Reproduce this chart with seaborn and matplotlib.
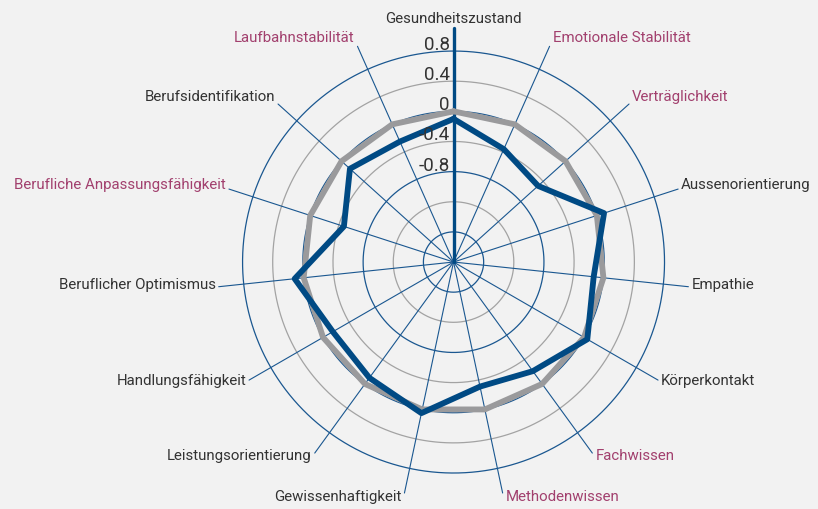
import numpy as np
import matplotlib
matplotlib.use('Agg')
import matplotlib.pyplot as plt
import seaborn as sns

# Kategorien im Uhrzeigersinn, beginnend oben
categories = ['Gesundheitszustand', 'Emotionale Stabilität', 'Verträglichkeit',
              'Aussenorientierung', 'Empathie', 'Körperkontakt', 'Fachwissen',
              'Methodenwissen', 'Gewissenhaftigkeit', 'Leistungsorientierung',
              'Handlungsfähigkeit', 'Beruflicher Optimismus',
              'Berufliche Anpassungsfähigkeit', 'Berufsidentifikation',
              'Laufbahnstabilität']

# Werte (blau = Profil, grau = Norm)
profil = [-0.10, -0.36, -0.49, 0.10, -0.13, 0.05, -0.21, -0.31, 0.05,
          -0.10, -0.15, 0.12, -0.47, -0.15, -0.25]
norm = [0.0, 0.0, 0.0, 0.0, 0.0, 0.0, 0.0, 0.0, 0.0,
        0.0, 0.0, 0.0, 0.0, 0.0, 0.0]

highlighted = ['Laufbahnstabilität', 'Emotionale Stabilität', 'Verträglichkeit',
               'Berufliche Anpassungsfähigkeit', 'Fachwissen', 'Methodenwissen']

tick_values = [0.8, 0.4, 0, -0.4, -0.8]
tick_labels = ['0.8', '0.4', '0', '-0.4', '-0.8']

BG = '#f2f2f2'
BLUE = '#004a84'
GRID_BLUE = '#1a5790'
GRAY = '#9a9a9c'
PINK = '#a2406e'
DARK = '#333333'

sns.set_theme(style='white')
plt.rcParams['font.family'] = ['Roboto', 'DejaVu Sans']

fig = plt.figure(figsize=(8.18, 5.09), dpi=100, facecolor=BG)
ax = fig.add_axes([0.2965, 0.0707, 0.5159, 0.829], projection='polar')
ax.set_theta_zero_location('N')
ax.set_theta_direction(-1)
ax.set_ylim(-2, 0.8)
ax.grid(False)
ax.set_xticks([])
ax.set_yticks([])
ax.spines['polar'].set_visible(False)
ax.patch.set_alpha(0)

n = len(categories)
angles = np.linspace(0, 2 * np.pi, n, endpoint=False)

# Kreise
th = np.linspace(0, 2 * np.pi, 400)
for lvl in [-1.6, -1.2, -0.8, -0.4, 0, 0.4, 0.8]:
    is_blue = round((lvl + 1.6) / 0.4) % 2 == 0
    ax.plot(th, np.full_like(th, lvl), color=GRID_BLUE if is_blue else '#a3a3a3',
            lw=0.9, zorder=1, clip_on=False)

# Speichen
r_end = 1.134
for i, a in enumerate(angles):
    if i == 0:
        ax.plot([a, a], [-2, 1.107], color=BLUE, lw=2.4, clip_on=False, zorder=2)
    else:
        ax.plot([a, a], [-2, r_end], color=GRID_BLUE, lw=0.8, clip_on=False, zorder=1)

# Linien
theta_c = np.append(angles, angles[0] + 2 * np.pi)
sns.lineplot(x=theta_c, y=norm + norm[:1], ax=ax, color=GRAY, lw=4.2,
             sort=False, zorder=3)
sns.lineplot(x=theta_c, y=profil + profil[:1], ax=ax, color=BLUE, lw=4.2,
             sort=False, zorder=4)
ax.set_xlabel('')
ax.set_ylabel('')

# Beschriftungen
fs = 10.8
for cat, a in zip(categories, angles):
    col = PINK if cat in highlighted else DARK
    if a == 0:
        ax.annotate(cat, xy=(a, 1.107), xytext=(0, 9), textcoords='offset pixels',
                    ha='center', va='center', color=col, fontsize=fs,
                    annotation_clip=False)
        continue
    s = np.sin(a)
    ha = 'left' if s > 0 else 'right'
    dx = 3 if s > 0 else -3
    dy = 2.5 + 6.5 * np.cos(a)
    ax.annotate(cat, xy=(a, r_end), xytext=(dx, dy), textcoords='offset pixels',
                ha=ha, va='center', color=col, fontsize=fs, annotation_clip=False)

for v, lbl in zip(tick_values, tick_labels):
    ax.annotate(lbl, xy=(0, v), xytext=(-4, 1), textcoords='offset pixels',
                ha='right', va='baseline', color=DARK, fontsize=13.5, zorder=6)

fig.savefig('out.png', dpi=100, facecolor=BG)
